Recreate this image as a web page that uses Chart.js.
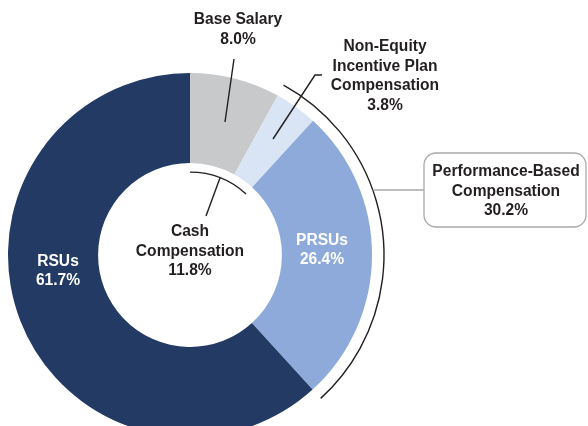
<!DOCTYPE html>
<html>
<head>
<meta charset="utf-8">
<script src="https://cdn.jsdelivr.net/npm/chart.js@4/dist/chart.umd.min.js"></script>
<style>
  html,body{margin:0;padding:0;background:#fff;overflow:hidden;}
  #wrap{position:relative;width:588px;height:440px;}
</style>
</head>
<body>
<div id="wrap"><canvas id="c" width="588" height="440"></canvas></div>
<script>
// pay mix data, clockwise from 12 o'clock
const categories = ['Base Salary', 'Non-Equity Incentive Plan Compensation', 'PRSUs', 'RSUs'];
const values = [8.0, 3.8, 26.4, 61.7];
const sliceColors = ['#c8c9cb', '#d9e4f4', '#8eaadb', '#233a64'];

// text shown for each slice (lines)
const sliceLabels = [
  ['Base Salary', '8.0%'],
  ['Non-Equity', 'Incentive Plan', 'Compensation', '3.8%'],
  ['PRSUs', '26.4%'],
  ['RSUs', '61.7%']
];

// groups made of slices (indexes)
const cashSlices = [0, 1];
const perfSlices = [1, 2];
const cashName = ['Cash', 'Compensation'];
const perfName = ['Performance-Based', 'Compensation'];

const sum = idx => idx.reduce((a, i) => a + values[i], 0).toFixed(1) + '%';

const FONT = 'bold 15.6px "Liberation Sans", Arial, sans-serif';
const INK = '#231f20';

function lines(ctx, arr, x, y, gap, color){
  ctx.fillStyle = color;
  ctx.font = FONT;
  ctx.textAlign = 'center';
  ctx.textBaseline = 'middle';
  arr.forEach((t, i) => ctx.fillText(t, x, y + i * gap));
}

const annotate = {
  id: 'annotate',
  afterDraw(chart){
    const ctx = chart.ctx;
    const arcs = chart.getDatasetMeta(0).data;
    const cx = arcs[0].x, cy = arcs[0].y;
    const R = arcs[0].outerRadius, r = arcs[0].innerRadius;
    const P = (dx, dy) => [cx + dx, cy + dy];
    ctx.save();
    ctx.strokeStyle = INK;
    ctx.lineWidth = 1.4;
    ctx.lineCap = 'butt';

    // slice labels
    lines(ctx, sliceLabels[0], ...P(48, -235), 19.5, INK);
    lines(ctx, sliceLabels[1], ...P(195, -208), 19.5, INK);
    lines(ctx, sliceLabels[2], ...P(132, -14), 18.5, '#fff');
    lines(ctx, sliceLabels[3], ...P(-132, 7), 19, '#fff');

    // leader: base salary
    ctx.beginPath();
    ctx.moveTo(...P(44, -196));
    ctx.lineTo(...P(35, -133));
    ctx.stroke();
    // leader: non-equity
    ctx.beginPath();
    ctx.moveTo(...P(132, -180));
    ctx.lineTo(...P(125, -180));
    ctx.lineTo(...P(83, -116));
    ctx.stroke();

    // cash compensation bracket arc inside the hole
    const cA0 = arcs[cashSlices[0]].startAngle, cA1 = arcs[cashSlices[cashSlices.length - 1]].endAngle;
    const cr = r - 9;
    ctx.beginPath();
    ctx.arc(cx, cy, cr, cA0, cA1);
    ctx.stroke();
    const cm = (cA0 + cA1) / 2;
    ctx.beginPath();
    ctx.moveTo(cx + cr * Math.cos(cm), cy + cr * Math.sin(cm));
    ctx.lineTo(...P(16, -39));
    ctx.stroke();
    lines(ctx, cashName.concat([sum(cashSlices)]), ...P(0, -23), 19.5, INK);

    // performance-based arc outside the ring
    const pA0 = arcs[perfSlices[0]].startAngle, pA1 = arcs[perfSlices[perfSlices.length - 1]].endAngle;
    const pr = R + 12;
    ctx.beginPath();
    ctx.arc(cx, cy, pr, pA0, pA1);
    ctx.stroke();

    // connector + box
    const by = cy - 65;
    const ax = cx + Math.sqrt(pr * pr - 65 * 65);
    const bx = 424, bt = 153, bw = 162, bh = 74;
    ctx.strokeStyle = '#a7a9ac';
    ctx.lineWidth = 1.3;
    ctx.beginPath();
    ctx.moveTo(ax, by);
    ctx.lineTo(bx, by);
    ctx.stroke();
    ctx.beginPath();
    ctx.roundRect(bx, bt, bw, bh, 12);
    ctx.fillStyle = '#fff';
    ctx.fill();
    ctx.stroke();
    lines(ctx, perfName.concat([sum(perfSlices)]), bx + bw / 2 + 1, bt + 19, 19.5, INK);

    ctx.restore();
  }
};

new Chart(document.getElementById('c'), {
  type: 'doughnut',
  data: {
    labels: categories,
    datasets: [{
      data: values,
      backgroundColor: sliceColors,
      borderWidth: 0
    }]
  },
  options: {
    responsive: false,
    animation: false,
    cutout: '50.5%',
    layout: { padding: { left: 8, right: 216, top: 73, bottom: 3 } },
    plugins: { legend: { display: false }, tooltip: { enabled: false } }
  },
  plugins: [annotate]
});
</script>
</body>
</html>
